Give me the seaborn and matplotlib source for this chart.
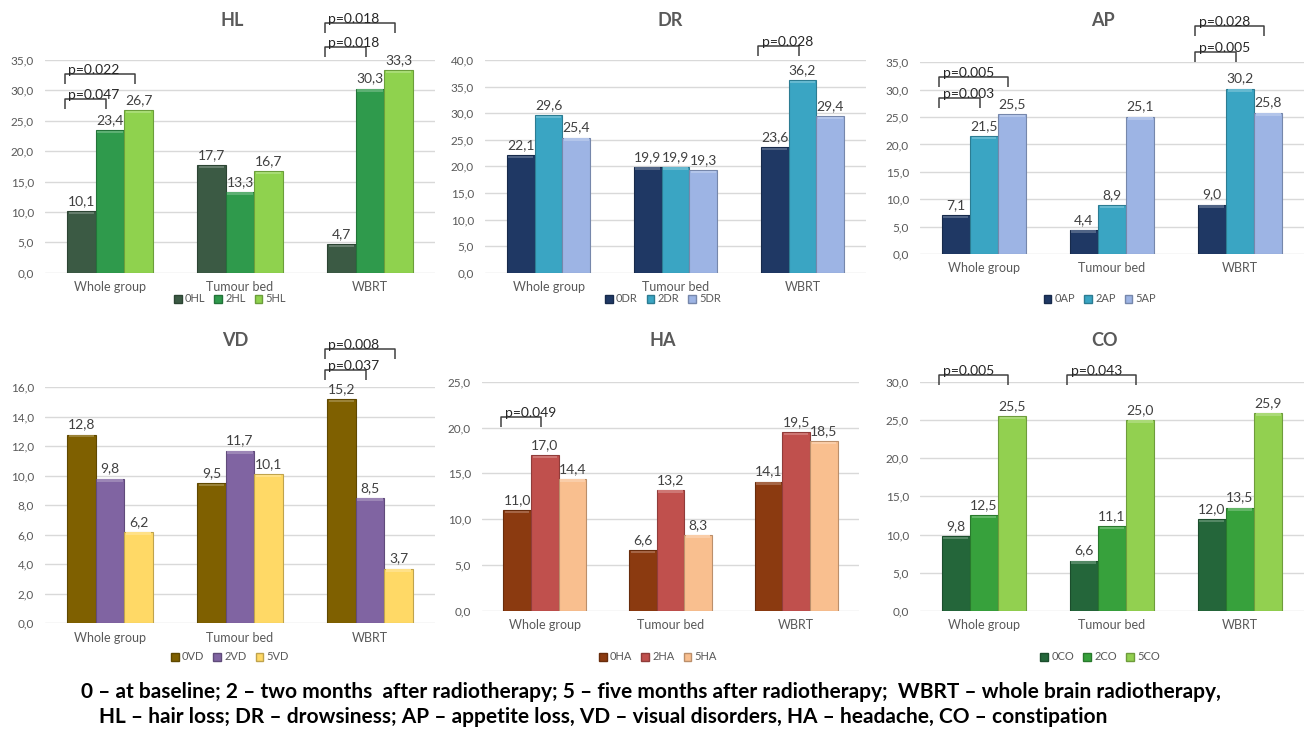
import numpy as np
import pandas as pd
import matplotlib
matplotlib.use("Agg")
import matplotlib.pyplot as plt
import seaborn as sns

# ---------------- data ----------------
groups = ["Whole group", "Tumour bed", "WBRT"]
times = ["0", "2", "5"]

HL_0 = [10.1, 17.7, 4.7]
HL_2 = [23.4, 13.3, 30.3]
HL_5 = [26.7, 16.7, 33.3]

DR_0 = [22.1, 19.9, 23.6]
DR_2 = [29.6, 19.9, 36.2]
DR_5 = [25.4, 19.3, 29.4]

AP_0 = [7.1, 4.4, 9.0]
AP_2 = [21.5, 8.9, 30.2]
AP_5 = [25.5, 25.1, 25.8]

VD_0 = [12.8, 9.5, 15.2]
VD_2 = [9.8, 11.7, 8.5]
VD_5 = [6.2, 10.1, 3.7]

HA_0 = [11.0, 6.6, 14.1]
HA_2 = [17.0, 13.2, 19.5]
HA_5 = [14.4, 8.3, 18.5]

CO_0 = [9.8, 6.6, 12.0]
CO_2 = [12.5, 11.1, 13.5]
CO_5 = [25.5, 25.0, 25.9]

# p-values: (group, from time, to time, label)
HL_p = [("Whole group", "0", "2", "p=0.047"), ("Whole group", "0", "5", "p=0.022"),
        ("WBRT", "0", "2", "p=0.018"), ("WBRT", "0", "5", "p=0.018")]
DR_p = [("WBRT", "0", "2", "p=0.028")]
AP_p = [("Whole group", "0", "2", "p=0.003"), ("Whole group", "0", "5", "p=0.005"),
        ("WBRT", "0", "2", "p=0.005"), ("WBRT", "0", "5", "p=0.028")]
VD_p = [("WBRT", "0", "2", "p=0.037"), ("WBRT", "0", "5", "p=0.008")]
HA_p = [("Whole group", "0", "2", "p=0.049")]
CO_p = [("Whole group", "0", "5", "p=0.005"), ("Tumour bed", "0", "5", "p=0.043")]

caption_1 = ("0 \u2013 at baseline; 2 \u2013 two months  after radiotherapy; 5 \u2013 five months "
             "after radiotherapy;  WBRT \u2013 whole brain radiotherapy,")
caption_2 = ("HL \u2013 hair loss; DR \u2013 drowsiness; AP \u2013 appetite loss, VD \u2013 visual "
             "disorders, HA \u2013 headache, CO \u2013 constipation")

# ---------------- layout / style ----------------
W, H, DPI = 1306, 734, 100
panels = [
    # code, series, pvals, colors, ymax, step, axes px (l, t, r, b), title px, legend px, bracket levels
    ("HL", (HL_0, HL_2, HL_5), HL_p, ["#3b5a44", "#2f9a4c", "#8fd24e"], 35, 5,
     (45, 60, 435, 272.7), (232, 20), (230, 299), [28.6, 32.7, 37.2, 41.1]),
    ("DR", (DR_0, DR_2, DR_5), DR_p, ["#1f3864", "#3aa5c3", "#9db4e4"], 40, 5,
     (485, 60, 866, 272.7), (670, 20), (663, 299), [42.6]),
    ("AP", (AP_0, AP_2, AP_5), AP_p, ["#1f3864", "#3aa5c3", "#9db4e4"], 35, 5,
     (920, 62.3, 1304, 254), (1103, 20), (1100, 299), [28.5, 32.3, 36.9, 41.6]),
    ("VD", (VD_0, VD_2, VD_5), VD_p, ["#7f6000", "#8064a2", "#ffd966"], 16, 2,
     (45, 387.3, 435, 623.3), (235, 341), (230, 657), [17.2, 18.6]),
    ("HA", (HA_0, HA_2, HA_5), HA_p, ["#8b3a10", "#c0504d", "#f9bf8f"], 25, 5,
     (482, 381.7, 859, 611), (663, 341), (658, 657), [21.1]),
    ("CO", (CO_0, CO_2, CO_5), CO_p, ["#24663a", "#37a13c", "#92d050"], 30, 5,
     (920, 381.7, 1304, 611), (1105, 341), (1100, 657), [30.9, 30.9]),
]

sns.set_theme(style="white")
plt.rcParams["font.family"] = ["Lato", "DejaVu Sans"]

fig = plt.figure(figsize=(W / DPI, H / DPI), dpi=DPI)
fig.patch.set_facecolor("white")

BAR_W = 0.66
SUB = BAR_W / 3


def darker(c, f=0.75):
    r, g, b = matplotlib.colors.to_rgb(c)
    return (r * f, g * f, b * f)


def lighter(c, f=0.22):
    r, g, b = matplotlib.colors.to_rgb(c)
    return (r + (1 - r) * f, g + (1 - g) * f, b + (1 - b) * f)


def comma(v):
    return f"{v:.1f}".replace(".", ",")


for code, series, pvals, colors, ymax, step, (l, t, r, b), (tx, ty), (lx, ly), levels in panels:
    labels = [f"{tm}{code}" for tm in times]
    df = pd.DataFrame({
        "group": groups * 3,
        "time": [lab for lab in labels for _ in groups],
        "value": list(series[0]) + list(series[1]) + list(series[2]),
    })
    ax = fig.add_axes([l / W, 1 - b / H, (r - l) / W, (b - t) / H])
    sns.barplot(data=df, x="group", y="value", hue="time", hue_order=labels,
                order=groups, palette=colors, width=BAR_W, saturation=1,
                errorbar=None, legend=False, ax=ax)
    bevel = 3.0 * ymax / (b - t)
    for cont, col in zip(ax.containers, colors):
        for p in cont.patches:
            p.set_edgecolor(darker(col))
            p.set_linewidth(0.8)
            # subtle bevelled top highlight, derived from the bar drawn by seaborn
            x, w, hgt = p.get_x(), p.get_width(), p.get_height()
            ax.fill_between([x + w * 0.06, x + w * 0.94], hgt - bevel, hgt - bevel * 0.15,
                            color=lighter(col), lw=0, zorder=p.get_zorder() + 0.1)
        ax.bar_label(cont, fmt=comma, padding=3, fontsize=10, color="#404040")

    ax.set_xlim(-0.5, 2.5)
    ax.set_ylim(0, ymax)
    ticks = np.arange(0, ymax + 0.001, step)
    ax.set_yticks(ticks)
    ax.set_yticklabels([comma(v) for v in ticks])
    ax.yaxis.grid(True, color="#d9d9d9", lw=1)
    ax.set_axisbelow(True)
    for s in ax.spines.values():
        s.set_visible(False)
    ax.set_xlabel("")
    ax.set_ylabel("")
    ax.tick_params(axis="y", length=0, labelsize=8.5, labelcolor="#595959", pad=8)
    ax.tick_params(axis="x", length=0, labelsize=9, labelcolor="#595959", pad=6)

    # title
    fig.text(tx / W, 1 - ty / H, code, ha="center", va="center", fontsize=13,
             fontweight="bold", color="#595959")

    # legend
    handles = [matplotlib.patches.Patch(facecolor=c, edgecolor=darker(c)) for c in colors]
    ax.legend(handles, labels, loc="center", bbox_to_anchor=(lx / W, 1 - ly / H),
              bbox_transform=fig.transFigure, ncol=3, frameon=False, fontsize=8,
              handlelength=0.7, handleheight=0.7, handletextpad=0.3, columnspacing=0.8,
              labelcolor="#595959", borderaxespad=0, borderpad=0)

    # p-value brackets
    leg = 10 * ymax / (b - t)
    for (g, h0, h1, txt), ytop in zip(pvals, levels):
        gi = groups.index(g)
        i0, i1 = times.index(h0), times.index(h1)
        x0 = gi + (i0 - 1) * SUB - SUB / 2 - 0.02
        x1 = gi + (i1 - 1) * SUB - 0.03
        ax.plot([x0, x0, x1, x1], [ytop - leg, ytop, ytop, ytop - leg],
                color="#404040", lw=1.1, clip_on=False, solid_capstyle="butt")
        ax.text(x0 + 0.03, ytop, txt, ha="left", va="baseline", fontsize=10,
                color="#262626", clip_on=False)

fig.text(651 / W, 1 - 692 / H, caption_1, ha="center", va="center", fontsize=15,
         fontweight="bold", color="black")
fig.text(603 / W, 1 - 717 / H, caption_2, ha="center", va="center", fontsize=15,
         fontweight="bold", color="black")

fig.savefig("out.png", dpi=DPI, facecolor="white")
